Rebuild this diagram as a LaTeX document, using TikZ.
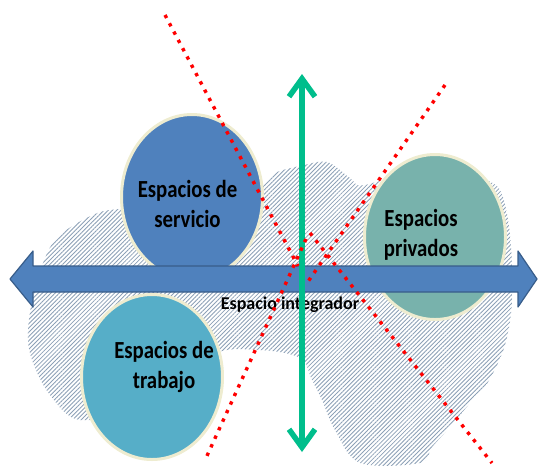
\documentclass[tikz,border=0pt]{standalone}
\usepackage{fontspec}
\setmainfont{Carlito}
\usetikzlibrary{shapes.geometric,arrows.meta,patterns.meta}
\definecolor{servblue}{RGB}{79,129,189}
\definecolor{privteal}{RGB}{120,178,172}
\definecolor{trabaqua}{RGB}{86,174,200}
\definecolor{creamline}{RGB}{238,236,208}
\definecolor{arrowline}{RGB}{56,93,138}
\definecolor{arrowgreen}{RGB}{0,190,140}
\definecolor{dotred}{RGB}{255,0,0}
\definecolor{hatch}{RGB}{140,160,182}
\begin{document}
\begin{tikzpicture}[x=1pt,y=-1pt,line join=round,
	space/.style={ellipse,draw=creamline,line width=3pt,minimum width=141pt,minimum height=165pt,inner sep=0pt},
	lbl/.style={font=\bfseries\fontsize{20.8}{25.4}\selectfont,align=center,yscale=1.18,transform shape},
	reddot/.style={draw=dotred,line width=3.4pt,dash pattern=on 3.4pt off 6pt},
	garrow/.style={draw=arrowgreen,line width=5.5pt,>={Straight Barb[length=18pt,width=26pt]},<->},
	barrow/.style={fill=servblue,draw=arrowline,line width=1.2pt}]
	\def \W{538}
	\def \H{467}
	\useasboundingbox (0,0) rectangle (\W,\H);
	%Nube rayada
	\fill[pattern={Lines[angle=45,distance=3pt,line width=0.85pt]},pattern color=hatch]
	plot[smooth cycle,tension=0.55] coordinates {
		(80,420) (50,395) (32,360) (28,330) (36,285) (55,240) (95,214) (125,208)
		(200,195) (255,188) (275,173) (300,166) (327,162) (350,178) (365,185)
		(430,165) (478,178) (500,190) (510,235) (512,300) (505,345) (488,382)
		(470,403) (450,427) (432,447) (420,463) (360,463) (335,430) (322,400)
		(312,380) (300,358) (260,350) (210,355) (140,405)};
	%Espacios
	\node[space,fill=servblue] (servicio) at (192,197) {};
	\node[space,fill=privteal] (privados) at (435,237) {};
	\node[space,fill=trabaqua] (trabajo) at (152,377) {};
	%Flecha horizontal
	\draw[barrow] (10,279) -- (33,251) -- (33,266) -- (518,266) -- (518,251)
	-- (537,279) -- (518,307) -- (518,292) -- (33,292) -- (33,307) -- cycle;
	\node[lbl] (tServ) at (187.5,204) {Espacios de\\servicio};
	\node[lbl] (tPriv) at (421,235) {Espacios\\privados};
	\node[lbl] (tTrab) at (164,367) {Espacios de\\trabajo};
	\node[font=\bfseries\fontsize{18}{20}\selectfont] (tInteg) at (290,305) {Espacio integrador};
	%Flecha vertical
	\coordinate (gtop) at (302,74);
	\coordinate (gbot) at (302,452);
	\draw[garrow] (gtop) -- (gbot);
	%Lineas punteadas
	\coordinate (a1) at (165,15);  \coordinate (a2) at (298,266);
	\coordinate (b1) at (310,233); \coordinate (b2) at (492,463);
	\coordinate (c1) at (445,85);  \coordinate (c2) at (307,283);
	\coordinate (d1) at (306,239); \coordinate (d2) at (206,458);
	\draw[reddot] (a1) -- (a2) (b1) -- (b2) (c1) -- (c2) (d1) -- (d2);
\end{tikzpicture}
\end{document}
